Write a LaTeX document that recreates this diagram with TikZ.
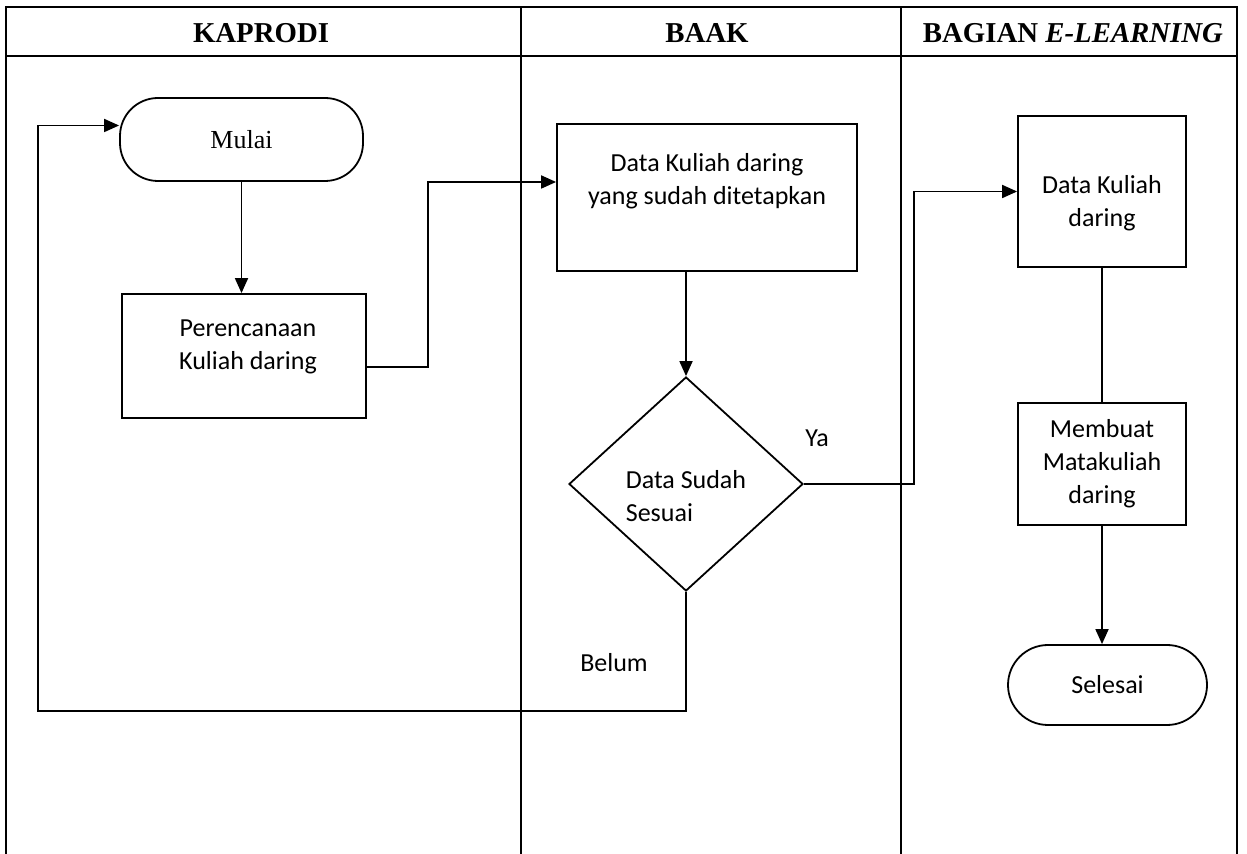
\documentclass[tikz,border=0pt]{standalone}
\usepackage{fontspec}
\setmainfont{Liberation Serif}
\newfontfamily\calibri{Carlito}
\usetikzlibrary{arrows.meta,shapes.geometric}

\begin{document}
\begin{tikzpicture}[x=0.5pt,y=-0.5pt,
  lane/.style={line width=1.2pt},
  box/.style={draw,line width=0.9pt,inner sep=0pt},
  term/.style={box,rounded corners=19pt},
  txt/.style={font=\calibri\fontsize{13}{16.5}\selectfont,align=center,inner sep=0pt},
  head/.style={font=\bfseries\fontsize{14.4}{17}\selectfont,inner sep=0pt},
  flow/.style={line width=0.9pt},
  arr/.style={flow,-{Triangle[length=7.5pt,width=6.5pt]}}]
\useasboundingbox (0,0) rectangle (1247,854);
%lanes
\draw[lane] (6,854) -- (6,7) -- (1237,7) -- (1237,854);
\draw[lane] (6,56) -- (1237,56);
\draw[lane] (521,7) -- (521,854);
\draw[lane] (901,7) -- (901,854);
\node[head] (kaprodi) at (261,33) {KAPRODI};
\node[head] (baak) at (707,33) {BAAK};
\node[head] (elearn) at (1073,33) {BAGIAN \textit{E-LEARNING}};
%kaprodi
\node[term,minimum width=121.5pt,minimum height=41.5pt,font=\fontsize{13}{16}\selectfont] (mulai) at (241.5,139.5) {Mulai};
\node[box,minimum width=122pt,minimum height=62pt] (plan) at (244,356) {};
\node[txt] (plantxt) at (248,347) {Perencanaan\\Kuliah daring};
%baak
\node[box,minimum width=150pt,minimum height=73.5pt] (data) at (707,197.5) {};
\node[txt] (datatxt) at (707,181) {Data Kuliah daring\\yang sudah ditetapkan};
\node[box,diamond,minimum width=117pt,minimum height=107pt] (check) at (686,484) {};
\node[txt,align=left] (checktxt) at (686,496) {Data Sudah\\Sesuai};
\node[txt] (ya) at (817,438) {Ya};
\node[txt] (belum) at (614,663) {Belum};
%e-learning
\node[box,minimum width=84pt,minimum height=75.5pt] (el1) at (1102,191.5) {};
\node[txt] (el1txt) at (1102,203) {Data Kuliah\\daring};
\node[box,txt,draw,minimum width=84pt,minimum height=61pt] (el2) at (1102,464) {Membuat\\Matakuliah\\daring};
\node[term,txt,draw,rounded corners=20pt,minimum width=99.5pt,minimum height=40pt] (selesai) at (1107.5,685) {Selesai};
% connectors
\draw[arr] (mulai.south) -- (mulai.south |- plan.north);
\draw[arr] ([yshift=-5.5pt]plan.east) -- ++(61,0) |- ([yshift=7.75pt]data.west);
\draw[arr] (check.north |- data.south) -- (check.north);
\draw[arr] (check.east) -- ++(110,0) |- (el1.west);
\draw[flow] (el1) -- (el2);
\draw[arr] (el2.south) -- (el2.south |- selesai.north);
\coordinate (back) at (38,711);
\draw[arr] (check.south) |- (back) |- ([yshift=7pt]mulai.west);
\end{tikzpicture}
\end{document}
